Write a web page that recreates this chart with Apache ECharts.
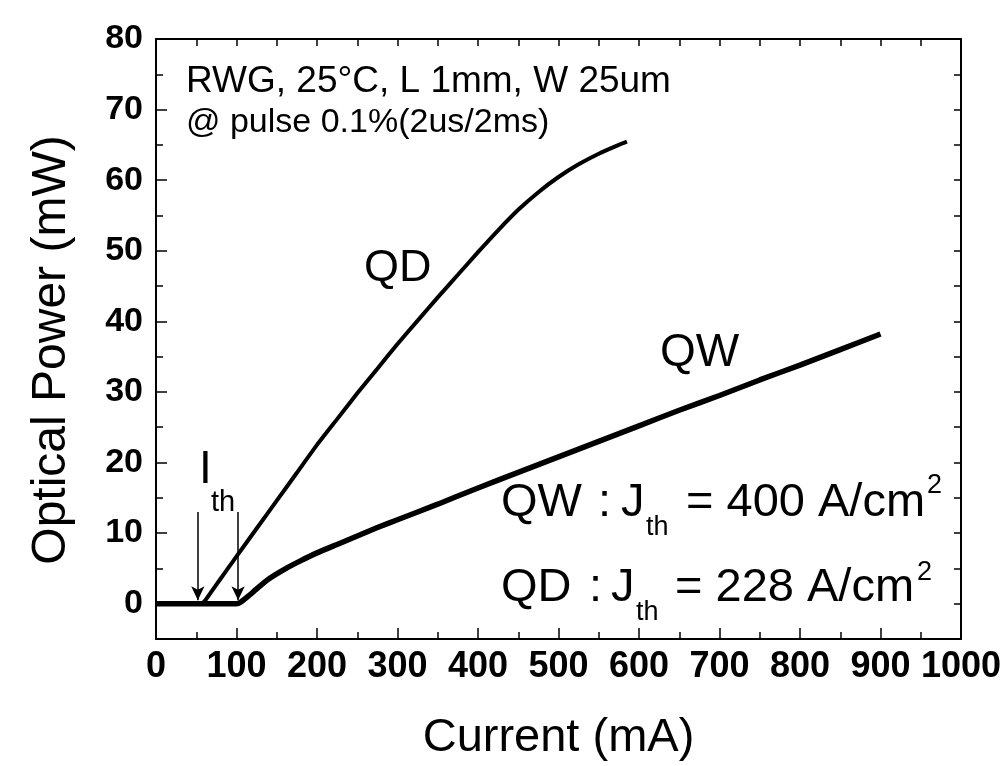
<!DOCTYPE html>
<html>
<head>
<meta charset="utf-8">
<title>L-I curves</title>
<script src="https://cdn.jsdelivr.net/npm/echarts@6/dist/echarts.min.js"></script>
<style>
    html, body { margin: 0; padding: 0; background: #fff; }
    #main { width: 1003px; height: 766px; }
</style>
</head>
<body>
<div id="main"></div>
<script>
var myChart;

var FONT = 'Arial, "Liberation Sans", Helvetica, sans-serif';

//QD 曲线 (mA, mW)
var qd_current = [0, 20, 40, 55, 60, 70, 80, 90, 100, 125, 150, 175, 200, 225, 250, 275, 300, 325, 350, 375, 400, 425, 450, 475, 500, 525, 550, 575, 585];
var qd_power = [0, 0, 0, 0, 0.3, 1.9, 3.5, 5.1, 6.7, 10.65, 14.6, 18.55, 22.5, 26.15, 29.8, 33.3, 36.8, 40.1, 43.4, 46.6, 49.8, 52.9, 55.8, 58.3, 60.45, 62.25, 63.75, 65.0, 65.45];

//QW 曲线 (mA, mW)
var qw_current = [0, 50, 100, 105, 115, 125, 140, 160, 180, 200, 225, 250, 275, 300, 350, 400, 450, 500, 550, 600, 650, 700, 750, 800, 850, 900];
var qw_power = [0, 0, 0, 0.2, 1.1, 2.1, 3.5, 4.9, 6.1, 7.2, 8.4, 9.6, 10.8, 11.9, 14.1, 16.4, 18.6, 20.8, 23.0, 25.2, 27.4, 29.5, 31.7, 33.8, 36.0, 38.2];

//阈值箭头
var th_arrow_x = [52, 102];
var th_arrow_top = 13;
var th_arrow_tip = 0.5;

//坐标轴
var x_min = 0, x_max = 1000, x_interval = 100;
var y_min = -5, y_max = 80;

function pairs(xs, ys) {
    var out = [];
    for (var i = 0; i < xs.length; i++) {
        out.push([xs[i], ys[i]]);
    }
    return out;
}

//文字, 以基线定位
function txt(x, baseline, str, size) {
    return {
        type: 'text',
        left: x,
        top: baseline - size * 0.86,
        style: {
            text: str,
            font: size + 'px ' + FONT,
            fill: '#000'
        },
        z: 100
    };
}

function axisX(pos, showLabel) {
    return {
        type: 'value',
        position: pos,
        min: x_min,
        max: x_max,
        interval: x_interval,
        name: showLabel ? 'Current (mA)' : '',
        nameLocation: 'middle',
        nameGap: 76,
        nameTextStyle: { fontFamily: FONT, fontSize: 47, color: '#000' },
        axisLine: { show: true, onZero: false, lineStyle: { color: '#000', width: 2 } },
        axisTick: { show: true, inside: true, length: showLabel ? 11 : 7, lineStyle: { color: '#000', width: 1.5 } },
        minorTick: { show: true, splitNumber: 2, length: 7, lineStyle: { color: '#000', width: 1.5 } },
        axisLabel: {
            show: showLabel,
            margin: 10,
            fontFamily: FONT,
            fontWeight: 'bold',
            fontSize: 36,
            color: '#000',
            formatter: function (v) { return String(v); }
        },
        splitLine: { show: false }
    };
}

function axisY(pos, showLabel) {
    return {
        type: 'value',
        position: pos,
        min: y_min,
        max: y_max,
        splitNumber: 8,
        name: showLabel ? 'Optical Power (mW)' : '',
        nameLocation: 'middle',
        nameGap: 80,
        nameTextStyle: { fontFamily: FONT, fontSize: 48, color: '#000', padding: [0, 22, 0, 0] },
        axisLine: { show: true, onZero: false, lineStyle: { color: '#000', width: 2 } },
        axisTick: { show: true, inside: true, length: showLabel ? 11 : 7, lineStyle: { color: '#000', width: 1.5 } },
        minorTick: { show: true, splitNumber: 2, length: 7, lineStyle: { color: '#000', width: 1.5 } },
        axisLabel: {
            show: showLabel,
            margin: 13,
            fontFamily: FONT,
            fontWeight: 'bold',
            fontSize: 34,
            color: '#000',
            formatter: function (v) { return v < 0 ? '' : String(v); }
        },
        splitLine: { show: false }
    };
}

function DrawEChartLI() {
    myChart = echarts.init(document.getElementById('main'), null, { renderer: 'canvas' });

    var arrowLines = [];
    for (var i = 0; i < th_arrow_x.length; i++) {
        arrowLines.push([
            { coord: [th_arrow_x[i], th_arrow_top] },
            { coord: [th_arrow_x[i], th_arrow_tip] }
        ]);
    }

    var option = {
        animation: false,
        backgroundColor: '#fff',
        grid: { left: 156, top: 39, right: 42, bottom: 127, containLabel: false, outerBoundsMode: 'none' },
        xAxis: [axisX('bottom', true), axisX('top', false)],
        yAxis: [axisY('left', true), axisY('right', false)],
        series: [
            {
                name: 'QW',
                type: 'line',
                data: pairs(qw_current, qw_power),
                showSymbol: false,
                smooth: 0.15,
                lineStyle: { color: '#000', width: 5.5 },
                z: 3
            },
            {
                name: 'QD',
                type: 'line',
                data: pairs(qd_current, qd_power),
                showSymbol: false,
                smooth: 0.15,
                lineStyle: { color: '#000', width: 4 },
                z: 4,
                markLine: {
                    silent: true,
                    symbol: ['none', 'arrow'],
                    symbolSize: [10, 14],
                    label: { show: false },
                    lineStyle: { color: '#000', width: 1.5, type: 'solid' },
                    data: arrowLines
                }
            }
        ],
        graphic: [
            txt(186, 95, 'RWG, 25°C, L 1mm, W 25um', 37),
            txt(186, 135, '@ pulse 0.1%(2us/2ms)', 34),
            txt(364, 285, 'QD', 45),
            txt(660, 370, 'QW', 46),
            txt(199, 487, 'I', 46),
            txt(211, 513, 'th', 29),
            // QW : Jth = 400 A/cm2
            txt(501, 520, 'QW', 47),
            txt(598, 520, ':', 47),
            txt(621, 520, 'J', 47),
            txt(646, 537, 'th', 27),
            txt(686, 520, '= 400 A/cm', 47),
            txt(927, 495, '2', 27),
            // QD : Jth = 228 A/cm2
            txt(501, 605, 'QD', 47),
            txt(589, 605, ':', 47),
            txt(611, 605, 'J', 47),
            txt(636, 622, 'th', 27),
            txt(675, 605, '= 228 A/cm', 47),
            txt(917, 582, '2', 27)
        ]
    };
    myChart.setOption(option);
}

DrawEChartLI();
</script>
</body>
</html>
